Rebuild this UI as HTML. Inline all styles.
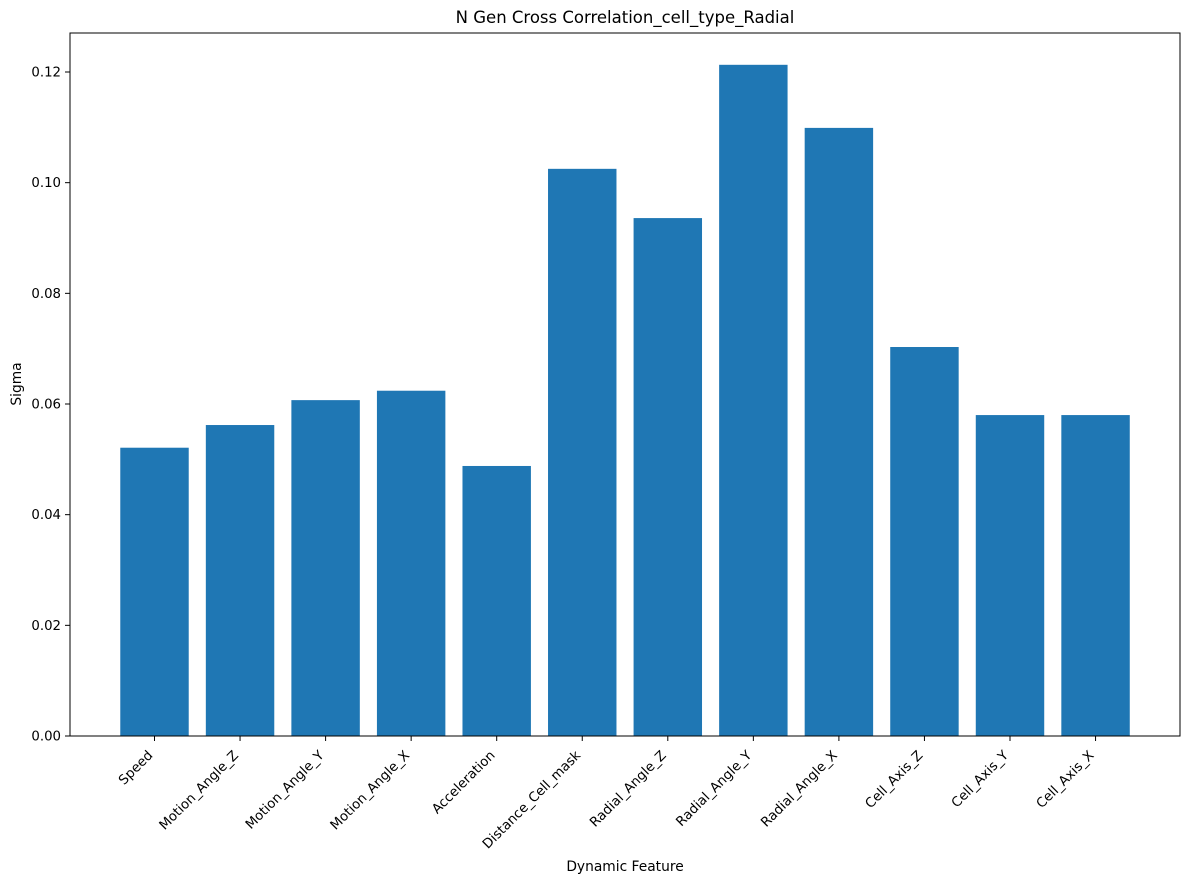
<!DOCTYPE html>
<html><head><meta charset="utf-8"><style>
body{margin:0;background:#fff;}
svg{font-family:"DejaVu Sans","Liberation Sans",sans-serif;}
</style></head><body>
<svg id="chart" width="1189" height="883" viewBox="0 0 1189 883">
<text x="625" y="23" text-anchor="middle" font-size="16.5">N Gen Cross Correlation_cell_type_Radial</text>
<g id="bars"></g>
<g id="yaxis"></g>
<g id="xaxis"></g>
<rect x="70" y="33" width="1110" height="703" fill="none" stroke="#000" stroke-width="1"/>
<text x="625" y="871" text-anchor="middle" font-size="13.8">Dynamic Feature</text>
<text x="21" y="384" text-anchor="middle" font-size="13.8" transform="rotate(-90 21 384)">Sigma</text>
</svg>
<script>
const categories=["Speed","Motion_Angle_Z","Motion_Angle_Y","Motion_Angle_X","Acceleration","Distance_Cell_mask","Radial_Angle_Z","Radial_Angle_Y","Radial_Angle_X","Cell_Axis_Z","Cell_Axis_Y","Cell_Axis_X"];
const values=[0.0521,0.0562,0.0607,0.0624,0.0488,0.1025,0.0936,0.1213,0.1099,0.0703,0.0580,0.0580];
const yTicks=[0,0.02,0.04,0.06,0.08,0.10,0.12];
const yTickLabels=["0.00","0.02","0.04","0.06","0.08","0.10","0.12"];
const NS="http://www.w3.org/2000/svg";
const y0=736,pxPerUnit=5533.3;
function yScale(v){return y0-v*pxPerUnit;}
const step=85.55,first=154.5;
function xScale(i){return first+i*step;}
const bw=step*0.8;
const bars=document.getElementById('bars'),ya=document.getElementById('yaxis'),xa=document.getElementById('xaxis');
function mk(tag,attrs,parent){const e=document.createElementNS(NS,tag);for(const k in attrs)e.setAttribute(k,attrs[k]);parent.appendChild(e);return e;}
values.forEach((v,i)=>{
 const r=mk('rect',{x:xScale(i)-bw/2,y:yScale(v),width:bw,height:y0-yScale(v),fill:'#1f77b4'},bars);
 
 
 const cx=xScale(i);
 mk('line',{x1:cx,x2:cx,y1:736,y2:741,stroke:'#000'},xa);
 const tx=cx-1,ty=756;
 const t=mk('text',{x:tx,y:ty,'text-anchor':'end','font-size':13.3,transform:`rotate(-45 ${tx} ${ty})`},xa);
 t.textContent=categories[i];
 
 
});
yTicks.forEach((v,i)=>{
 const y=yScale(v);
 mk('line',{x1:65,x2:70,y1:y,y2:y,stroke:'#000'},ya);
 const t=mk('text',{x:61,y:y+4.5,'text-anchor':'end','font-size':13.3},ya);
 t.textContent=yTickLabels[i];
 
 
});
</script>
</body></html>
